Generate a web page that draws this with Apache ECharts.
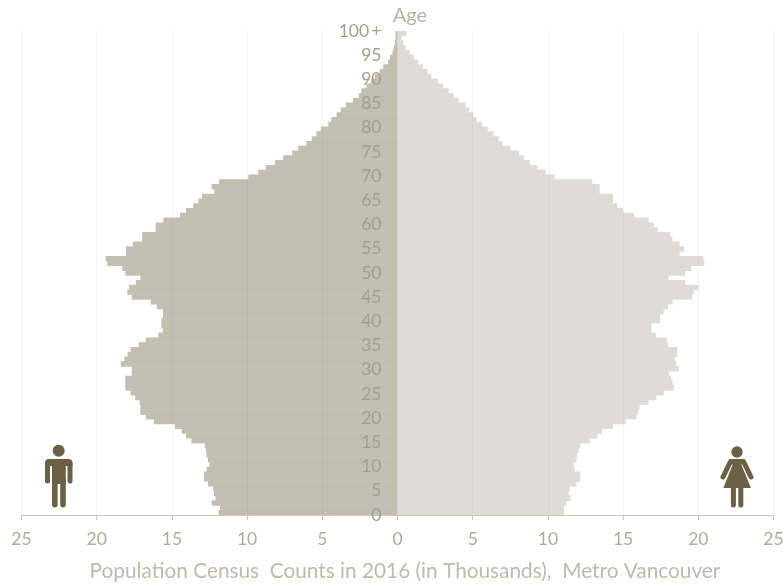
<!DOCTYPE html>
<html>
<head>
<meta charset="utf-8">
<title>Population pyramid</title>
<script src="https://cdn.jsdelivr.net/npm/echarts@6/dist/echarts.min.js"></script>
<style>
html, body { margin: 0; padding: 0; background: #fff; }
#chart { width: 783px; height: 584px; }
</style>
</head>
<body>
<div id="chart"></div>
<script>
// ages 0..100, thousands of people
const ages = Array.from({ length: 101 }, (_, i) => i)
const male = [
  11.9, 11.8, 12.35, 12.1, 12.2, 12.25, 12.6, 12.87, 12.87, 12.7,
  12.5, 12.6, 12.7, 12.74, 12.8, 13.7, 14.06, 14.35, 14.8, 16.2,
  16.74, 17.1, 17.1, 17.15, 17.45, 17.74, 18.1, 18.1, 18.1, 17.67,
  17.67, 18.4, 18.16, 17.94, 17.74, 17.2, 16.74, 15.9, 15.6, 15.7,
  15.7, 15.6, 15.6, 16.0, 16.4, 17.67, 17.96, 17.85, 17.4, 17.1,
  18.1, 18.3, 19.3, 19.4, 18.05, 18.05, 17.6, 16.97, 16.97, 16.08,
  16.08, 15.57, 14.46, 14.06, 13.58, 13.24, 13.0, 12.18, 12.36, 11.87,
  9.92, 9.26, 8.75, 8.15, 7.6, 7.0, 6.6, 6.05, 5.7, 5.4,
  5.1, 4.6, 4.4, 4.05, 3.77, 3.43, 2.95, 2.57, 2.4, 2.06,
  1.77, 1.5, 1.2, 0.95, 0.62, 0.5, 0.33, 0.24, 0.18, 0.13,
  0.13
]
const female = [
  11.07, 11.07, 11.23, 11.5, 11.38, 11.45, 11.9, 12.16, 12.16, 11.78,
  11.72, 11.9, 11.96, 12.05, 12.16, 12.78, 13.29, 13.6, 14.33, 15.17,
  15.88, 16.0, 16.1, 16.7, 17.2, 17.7, 18.38, 18.3, 18.2, 18.05,
  18.7, 18.54, 18.43, 18.6, 18.6, 17.98, 17.9, 17.2, 16.88, 16.88,
  17.47, 17.47, 17.7, 17.98, 18.3, 19.6, 19.69, 20.0, 19.13, 18.03,
  19.13, 19.53, 20.4, 20.35, 18.76, 19.05, 18.76, 18.27, 18.14, 17.3,
  17.05, 16.7, 15.73, 15.0, 14.6, 14.33, 14.33, 13.44, 13.44, 12.95,
  10.45, 9.85, 9.3, 8.8, 8.4, 8.1, 7.5, 7.0, 6.73, 6.4,
  6.0, 5.65, 5.25, 5.03, 4.76, 4.54, 4.07, 3.74, 3.4, 3.03,
  2.7, 2.26, 2.0, 1.7, 1.37, 1.08, 0.82, 0.53, 0.38, 0.27,
  0.6
]

const labelFont = 'Lato, "Open Sans", sans-serif'
const iconColor = '#6b6045'
const iconStyle = { fill: iconColor }
const limbStyle = { stroke: iconColor, lineWidth: 5, lineCap: 'round' }

const chart = echarts.init(document.getElementById('chart'), null, { renderer: 'canvas' })

chart.setOption({
  animation: false,
  backgroundColor: '#fff',
  title: [
    {
      text: 'Age',
      left: 405, top: 1,
      textAlign: 'center',
      textStyle: { fontFamily: labelFont, fontSize: 20, fontWeight: 'normal', color: '#b5b3a3' }
    },
    {
      text: 'Population Census  Counts in 2016 (in Thousands),  Metro Vancouver',
      left: 400, top: 556,
      textAlign: 'center',
      textStyle: { fontFamily: labelFont, fontSize: 20.8, fontWeight: 'normal', color: '#bdbbab' }
    }
  ],
  grid: { left: 21.5, right: 9.5, top: 31, bottom: 69, containLabel: false, outerBoundsMode: 'none' },
  xAxis: {
    type: 'value',
    min: -25, max: 25, interval: 5,
    z: 3,
    axisLine: { show: true, onZero: false, lineStyle: { color: '#c9c7ba', width: 1 } },
    axisTick: { show: true, length: 5, lineStyle: { color: '#c9c7ba' } },
    splitLine: { show: true, lineStyle: { color: 'rgba(160,155,135,0.12)', width: 1 } },
    axisLabel: {
      margin: 15,
      fontFamily: labelFont, fontSize: 17.5, color: '#aeac9b',
      formatter: v => Math.abs(v)
    }
  },
  yAxis: [
    {
      type: 'category',
      data: ages,
      show: false
    },
    {
      type: 'value',
      position: 'left',
      offset: -376,
      min: 0, max: 100, interval: 5,
      z: 5,
      axisLine: { show: false },
      axisTick: { show: false },
      splitLine: { show: false },
      axisLabel: {
        margin: 16,
        fontFamily: labelFont, fontSize: 17.5, color: '#a3a08c',
        formatter: v => (v === 100 ? '100\u2009+' : v)
      }
    }
  ],
  series: [
    {
      name: 'Male',
      type: 'bar',
      yAxisIndex: 0,
      data: male.map(v => -v),
      barWidth: '112%',
      barGap: '-100%',
      itemStyle: { color: '#c1bfb2' }
    },
    {
      name: 'Female',
      type: 'bar',
      yAxisIndex: 0,
      data: female,
      barWidth: '112%',
      barGap: '-100%',
      itemStyle: { color: '#dedcd7' }
    }
  ],
  graphic: [
    // man
    { type: 'circle', shape: { cx: 58.7, cy: 450.7, r: 6 }, style: iconStyle },
    { type: 'rect', shape: { x: 45, y: 459, width: 27.5, height: 7, r: [4, 4, 0, 0] }, style: iconStyle },
    { type: 'rect', shape: { x: 52, y: 462, width: 13.8, height: 22 }, style: iconStyle },
    { type: 'line', shape: { x1: 47.5, y1: 464, x2: 47.5, y2: 481 }, style: limbStyle },
    { type: 'line', shape: { x1: 70, y1: 464, x2: 70, y2: 481 }, style: limbStyle },
    { type: 'line', shape: { x1: 54.8, y1: 480, x2: 54.8, y2: 504.6 }, style: Object.assign({}, limbStyle, { lineWidth: 5.6 }) },
    { type: 'line', shape: { x1: 63, y1: 480, x2: 63, y2: 504.6 }, style: Object.assign({}, limbStyle, { lineWidth: 5.6 }) },
    // woman
    { type: 'circle', shape: { cx: 737, cy: 452, r: 5.7 }, style: iconStyle },
    { type: 'polygon', shape: { points: [[731, 459], [743, 459], [741.5, 465], [751, 488], [723.4, 488], [732.5, 465]] }, style: iconStyle },
    { type: 'line', shape: { x1: 730.5, y1: 461.5, x2: 723, y2: 477 }, style: limbStyle },
    { type: 'line', shape: { x1: 743.5, y1: 461.5, x2: 751, y2: 477 }, style: limbStyle },
    { type: 'line', shape: { x1: 733.4, y1: 486, x2: 733.4, y2: 505 }, style: limbStyle },
    { type: 'line', shape: { x1: 740.8, y1: 486, x2: 740.8, y2: 505 }, style: limbStyle }
  ]
})
</script>
</body>
</html>
